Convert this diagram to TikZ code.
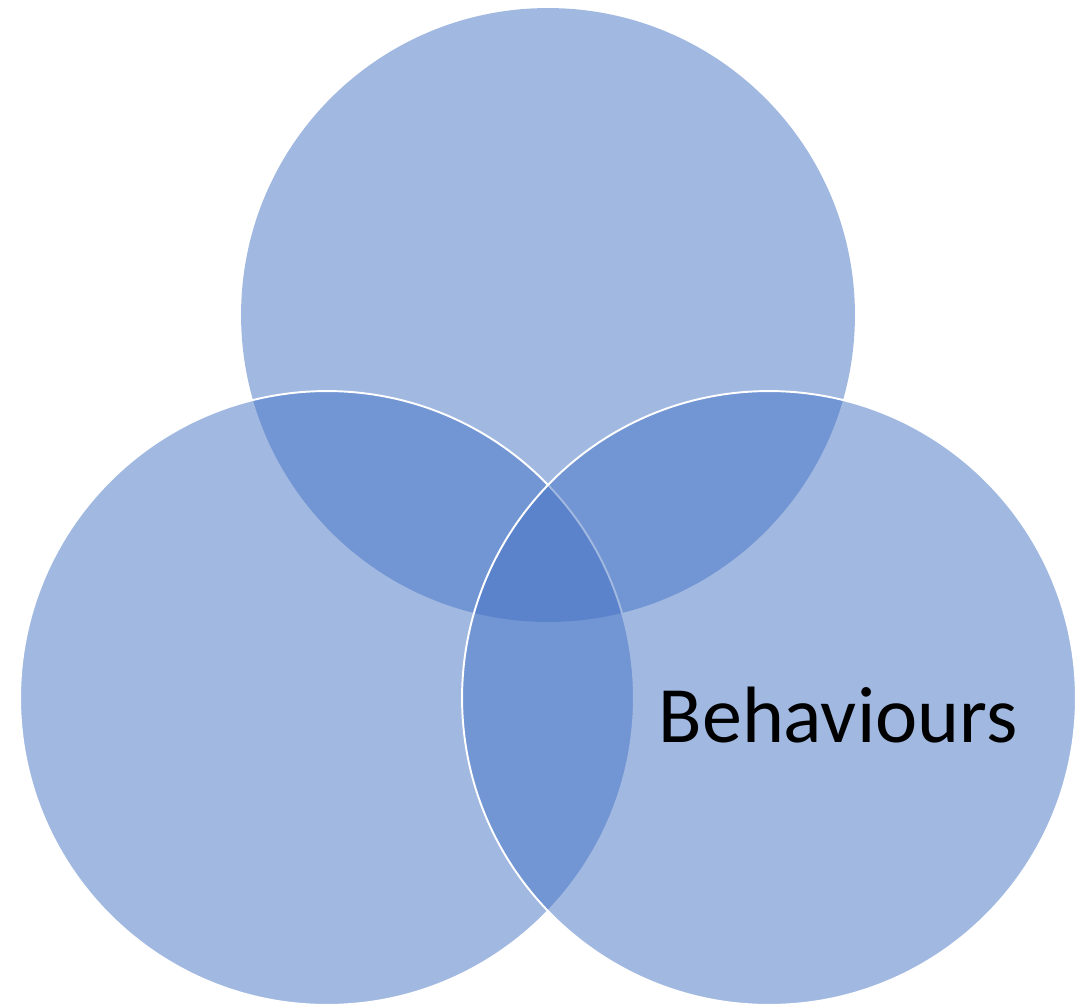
\documentclass[tikz,border=0pt]{standalone}
\usepackage{fontspec}
\setmainfont{Carlito}
\definecolor{accentblue}{RGB}{68,114,196}
\usetikzlibrary{positioning}

\begin{document}
\begin{tikzpicture}[x=0.02cm,y=-0.02cm,
          bubble/.style={circle,fill=accentblue,fill opacity=0.5,inner sep=0pt,
                         minimum size=12.28cm},
          edged/.style={bubble,draw=white,draw opacity=1,line width=1.1pt},
          label/.style={font=\fontsize{45.5}{54}\selectfont,text=black,anchor=base}]
        \useasboundingbox (0,0) rectangle (1089,1006);
        \node[bubble] (topc) at (548,315) {};
        \node[edged] (leftc) at (327,698) {};
        \node[edged] (rightc) at (769,698) {};
        \node[label] (beh) at (838,743) {Behaviours};
      \end{tikzpicture}
\end{document}
